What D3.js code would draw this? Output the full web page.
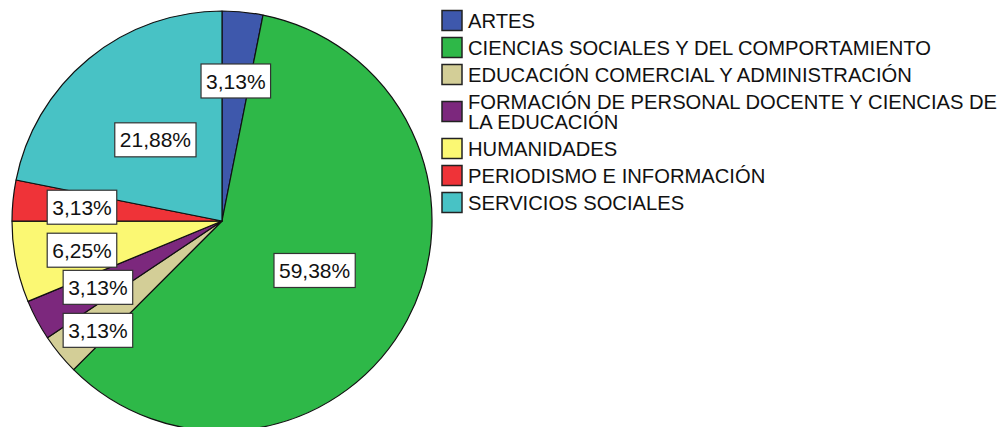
<!DOCTYPE html>
<html>
<head>
<meta charset="utf-8">
<script src="https://cdn.jsdelivr.net/npm/d3@7"></script>
<style>
  body { margin: 0; background: #fff; }
  svg { display: block; font-family: "Liberation Sans", Arial, sans-serif; }
</style>
</head>
<body>
<svg id="chart" width="1006" height="427"></svg>
<script>
// categories, percentages and colours (SPSS default palette)
var categories = [
    "ARTES",
    "CIENCIAS SOCIALES Y DEL COMPORTAMIENTO",
    "EDUCACIÓN COMERCIAL Y ADMINISTRACIÓN",
    "FORMACIÓN DE PERSONAL DOCENTE Y CIENCIAS DE|LA EDUCACIÓN",
    "HUMANIDADES",
    "PERIODISMO E INFORMACIÓN",
    "SERVICIOS SOCIALES"
];
var percents = [3.13, 59.38, 3.13, 3.13, 6.25, 3.13, 21.88];
var colors = ["#3e58ac", "#2eb848", "#d3ce97", "#7c287d", "#fbf873", "#ef3338", "#48c2c5"];

var svg = d3.select("#chart");

var cx = 222, cy = 221, radius = 210;

var data = categories.map((c, i) => ({name: c, value: percents[i], color: colors[i]}));

var pie = d3.pie()
    .sort(null)
    .value((d) => d.value);

var arc = d3.arc()
    .innerRadius(0)
    .outerRadius(radius);

var arcs = pie(data);

var g = svg.append("g")
    .attr("transform", "translate(" + cx + "," + cy + ")");

g.selectAll("path")
    .data(arcs)
    .enter()
    .append("path")
    .attr("d", arc)
    .attr("fill", (d) => d.data.color)
    .attr("stroke", "#111")
    .attr("stroke-width", 1.2)
    .attr("stroke-linejoin", "round");

// percentage labels: big slices nearer the centre, small ones further out
var fmt = (v) => v.toFixed(2).replace(".", ",") + "%";
var boxH = 34, gap = 9;

var labels = arcs.map((d) => {
    var frac = d.data.value > 10 ? 0.5 : 0.67;
    var a = (d.startAngle + d.endAngle) / 2;
    return {
        text: fmt(d.data.value),
        x: radius * frac * Math.sin(a),
        y: -radius * frac * Math.cos(a)
    };
});

// push overlapping labels down, stacking them under the one above
var order = labels.slice().sort((a, b) => a.y - b.y);
for (var i = 1; i < order.length; i++) {
    var prev = order[i - 1], cur = order[i];
    if (Math.abs(prev.x - cur.x) < 80 && cur.y - prev.y < boxH + gap) {
        cur.y = prev.y + boxH + gap;
        cur.x = prev.x;
    }
}

var lab = g.selectAll("g.lab")
    .data(labels)
    .enter()
    .append("g")
    .attr("class", "lab")
    .attr("transform", (d) => "translate(" + d.x + "," + d.y + ")");

lab.append("text")
    .attr("text-anchor", "middle")
    .attr("dy", "0.36em")
    .attr("font-size", 21)
    .attr("fill", "#111")
    .text((d) => d.text);

lab.each(function() {
    var t = d3.select(this).select("text");
    var w = t.node().getComputedTextLength() + 10;
    d3.select(this).insert("rect", "text")
        .attr("x", -w / 2)
        .attr("y", -boxH / 2)
        .attr("width", w)
        .attr("height", boxH)
        .attr("fill", "#fff")
        .attr("stroke", "#333")
        .attr("stroke-width", 1.2);
});

// legend
var legend = svg.append("g")
    .attr("transform", "translate(442,7)");

var rowH = 27, lineH = 20;
var yPos = 0;
data.forEach((d) => {
    var lines = d.name.split("|");
    var h = rowH + (lines.length - 1) * lineH;
    var mid = yPos + h / 2;
    var item = legend.append("g");
    item.append("rect")
        .attr("x", 0)
        .attr("y", mid - 10)
        .attr("width", 20)
        .attr("height", 20)
        .attr("fill", d.color)
        .attr("stroke", "#222")
        .attr("stroke-width", 1.5);
    lines.forEach((ln, j) => {
        item.append("text")
            .attr("x", 26)
            .attr("y", mid + (j - (lines.length - 1) / 2) * lineH)
            .attr("dy", "0.36em")
            .attr("font-size", 20.2)
            .attr("fill", "#111")
            .text(ln);
    });
    yPos += h;
});
</script>
</body>
</html>
